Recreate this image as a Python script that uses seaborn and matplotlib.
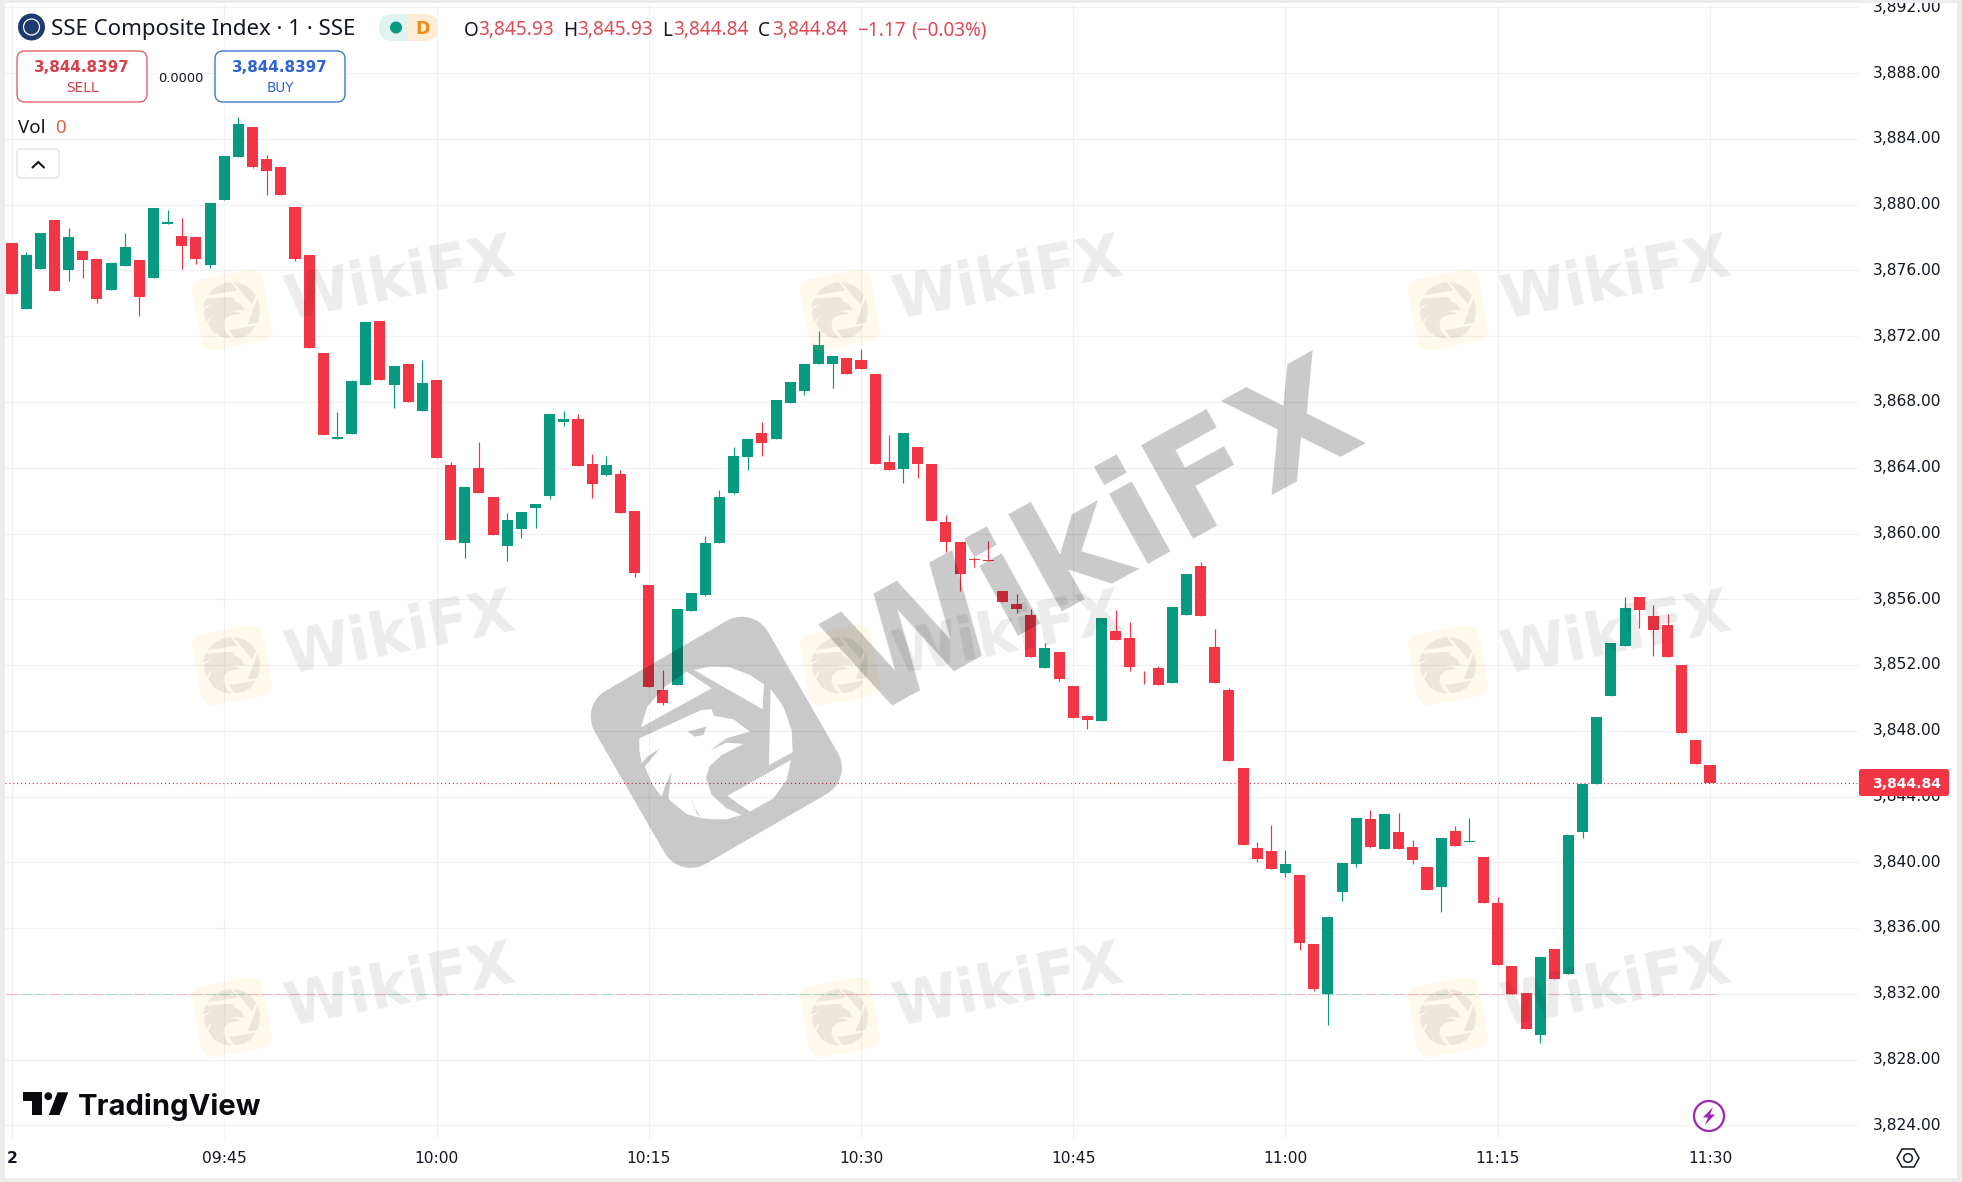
import numpy as np
import pandas as pd
import matplotlib
matplotlib.use("Agg")
import matplotlib.pyplot as plt
from matplotlib.path import Path
from matplotlib.patches import PathPatch, Rectangle, FancyBboxPatch, Circle, Polygon
from matplotlib.lines import Line2D
from matplotlib.transforms import ScaledTranslation
import seaborn as sns

OPEN = [3877.65,3873.64,3876.07,3879.10,3876.01,3877.16,3876.68,3874.79,3876.25,3876.61,
        3875.52,3878.80,3878.07,3878.01,3876.31,3880.26,3882.93,3884.75,3882.81,3882.32,
        3879.89,3876.92,3870.97,3865.75,3866.05,3869.02,3872.91,3869.02,3870.30,3867.45,
        3869.33,3864.17,3859.43,3863.99,3862.22,3859.25,3860.28,3861.56,3862.28,3866.78,
        3866.96,3864.23,3863.56,3863.62,3861.37,3856.88,3850.50,3850.81,3855.30,3856.27,
        3859.43,3862.47,3864.65,3866.11,3865.75,3867.93,3868.66,3870.30,3870.30,3870.66,
        3870.54,3869.69,3864.35,3863.92,3865.26,3864.23,3860.71,3859.49,3858.46,3858.40,
        3856.52,3855.73,3855.06,3851.84,3852.81,3850.75,3848.93,3848.62,3854.09,3853.66,
        3851.66,3851.84,3850.93,3855.06,3858.03,3853.12,3850.50,3845.76,3840.90,3840.66,
        3839.32,3839.20,3835.01,3831.98,3838.17,3839.87,3842.66,3840.78,3841.87,3840.96,
        3839.69,3838.47,3841.93,3841.21,3840.30,3837.50,3833.68,3832.04,3829.49,3834.71,
        3833.19,3841.87,3844.79,3850.13,3853.17,3856.14,3854.99,3854.44,3852.01,3847.46,
        3845.93]
HIGH = [3877.65,3877.10,3878.31,3879.10,3878.56,3877.16,3876.68,3876.43,3878.31,3876.61,
        3879.83,3879.65,3879.17,3878.07,3880.08,3882.99,3885.36,3884.75,3883.05,3882.32,
        3879.89,3876.92,3870.97,3867.39,3869.33,3872.85,3872.91,3870.18,3870.30,3870.54,
        3869.33,3864.35,3862.83,3865.56,3862.22,3861.25,3861.31,3861.80,3867.26,3867.45,
        3867.26,3864.84,3864.71,3863.86,3861.37,3856.88,3851.72,3855.42,3856.39,3859.86,
        3862.65,3865.26,3865.75,3866.78,3868.11,3869.21,3870.30,3872.30,3870.78,3870.66,
        3871.21,3869.69,3865.99,3866.11,3865.26,3864.23,3861.13,3859.49,3858.58,3859.55,
        3856.52,3856.33,3855.42,3853.36,3852.81,3850.75,3848.99,3854.88,3855.36,3854.63,
        3851.66,3851.94,3855.54,3857.55,3858.28,3854.21,3850.63,3845.76,3841.21,3842.30,
        3840.72,3839.20,3835.01,3836.65,3839.93,3842.72,3843.21,3842.91,3843.03,3841.33,
        3839.69,3841.45,3842.18,3842.72,3840.30,3837.87,3833.68,3832.04,3834.22,3834.71,
        3841.69,3844.79,3848.86,3853.35,3856.14,3856.14,3855.66,3855.11,3852.01,3847.46,
        3845.93]
LOW = [3874.57,3873.64,3876.07,3874.73,3875.34,3875.52,3874.00,3874.79,3876.25,3873.21,
       3875.52,3878.80,3876.07,3876.37,3876.13,3880.26,3882.93,3882.26,3880.62,3880.62,
       3876.55,3871.27,3865.99,3865.75,3866.05,3869.02,3869.33,3867.63,3867.99,3867.45,
       3864.59,3859.61,3858.52,3862.47,3859.92,3858.34,3859.73,3860.34,3862.10,3866.54,
       3864.11,3862.16,3863.50,3861.25,3857.37,3850.65,3849.59,3850.81,3855.30,3856.21,
       3859.43,3862.41,3863.86,3864.71,3865.75,3867.93,3868.42,3870.30,3868.84,3869.69,
       3870.00,3864.23,3863.86,3863.07,3863.38,3860.77,3858.88,3856.52,3857.97,3858.30,
       3855.85,3855.18,3852.51,3851.84,3851.05,3848.80,3848.08,3848.62,3853.54,3851.66,
       3850.87,3850.81,3850.93,3855.06,3855.00,3850.93,3846.19,3841.08,3839.99,3839.57,
       3839.08,3834.65,3832.16,3830.09,3837.62,3839.69,3840.90,3840.78,3840.78,3839.87,
       3838.29,3836.96,3841.02,3841.21,3837.50,3833.74,3831.98,3829.85,3829.00,3832.89,
       3833.19,3841.45,3844.79,3850.13,3853.17,3854.26,3852.56,3852.50,3847.89,3846.00,
       3844.84]
CLOSE = [3874.57,3876.92,3878.31,3874.73,3878.01,3876.61,3874.25,3876.43,3877.40,3874.37,
         3879.83,3878.92,3877.46,3876.68,3880.08,3882.99,3884.93,3882.32,3882.08,3880.62,
         3876.68,3871.27,3865.99,3865.87,3869.27,3872.85,3869.33,3870.18,3867.99,3869.15,
         3864.59,3859.61,3862.83,3862.47,3859.92,3860.83,3861.31,3861.80,3867.26,3866.96,
         3864.11,3863.01,3864.17,3861.25,3857.61,3850.65,3849.71,3855.42,3856.39,3859.43,
         3862.22,3864.71,3865.75,3865.50,3868.11,3869.21,3870.30,3871.45,3870.78,3869.69,
         3870.00,3864.23,3863.86,3866.11,3864.23,3860.77,3859.49,3857.55,3858.40,3858.30,
         3855.85,3855.42,3852.51,3853.05,3851.17,3848.80,3848.68,3854.88,3853.54,3851.90,
         3851.62,3850.81,3855.54,3857.55,3855.00,3850.93,3846.19,3841.08,3840.23,3839.57,
         3839.87,3835.07,3832.28,3836.65,3839.93,3842.72,3840.96,3842.91,3840.78,3840.17,
         3838.29,3841.45,3841.02,3841.27,3837.50,3833.74,3831.98,3829.85,3834.22,3832.89,
         3841.69,3844.79,3848.86,3853.35,3855.48,3855.35,3854.14,3852.50,3847.89,3846.00,
         3844.84]
PRICE_TICKS = [3824, 3828, 3832, 3836, 3840, 3844, 3848, 3852, 3856, 3860, 3864,
               3868, 3872, 3876, 3880, 3884, 3888, 3892]
TIME_TICK_POS = [0, 15, 30, 45, 60, 75, 90, 105, 120]
TIME_TICK_LABELS = ["2", "09:45", "10:00", "10:15", "10:30", "10:45", "11:00", "11:15", "11:30"]
LAST_PRICE = 3844.84
VOLUME_BASE = 3832.0

RED, GREEN = "#f23645", "#089981"
INK = "#131722"
GRID = "#f0f1f4"
W, H = 1962, 1182

sns.set_theme(style="white")
plt.rcParams["font.family"] = ["DejaVu Sans"]

df = pd.DataFrame({"i": np.arange(len(OPEN)), "o": OPEN, "h": HIGH, "l": LOW, "c": CLOSE})
df["up"] = df["c"] >= df["o"]
df["base"] = df[["o", "c"]].min(axis=1)
df["size"] = (df["c"] - df["o"]).abs()
wicks = df.melt(id_vars=["i", "up"], value_vars=["h", "l"], value_name="price")

fig = plt.figure(figsize=(W / 100, H / 100), dpi=100, facecolor="white")
ax = fig.add_axes([5 / W, 1 - 1138 / H, (1858 - 5) / W, (1138 - 5) / H])

for up, color in [(True, GREEN), (False, RED)]:
    wk = wicks[wicks["up"] == up]
    sns.lineplot(data=wk, x="i", y="price", units="i", estimator=None, color=color,
                 lw=0.85, solid_capstyle="butt", ax=ax, legend=False, zorder=2)
    part = df[df["up"] == up]
    sns.barplot(data=part, x="i", y="size", bottom=part["base"].to_numpy(), native_scale=True,
                color=color, saturation=1, width=0.78, errorbar=None, linewidth=0,
                ax=ax, legend=False, zorder=3)

ax.hlines([VOLUME_BASE] * len(df), df["i"] - 0.4, df["i"] + 0.4,
          colors=[GREEN if u else RED for u in df["up"]], lw=0.8, alpha=0.3, zorder=1.5)
ax.axhline(LAST_PRICE, color="#c8303f", lw=0.8, ls=(0, (1, 2.5)), zorder=1.8)

ax.set_xlim(-0.495, 130.46)
ax.set_ylim(3823.23, 3892.15)
ax.set_xlabel("")
ax.set_ylabel("")
ax.yaxis.tick_right()
ax.set_yticks(PRICE_TICKS)
ax.set_yticklabels([f"{v:,.2f}" for v in PRICE_TICKS])
ax.set_xticks(TIME_TICK_POS)
ax.set_xticklabels(TIME_TICK_LABELS)
ax.tick_params(axis="y", length=0, pad=10.5, labelsize=11.2, labelcolor=INK)
ax.tick_params(axis="x", length=0, pad=9.3, labelsize=11.2, labelcolor=INK)
lift = ScaledTranslation(0, 1.6 / 100, fig.dpi_scale_trans)
for tick in ax.yaxis.get_major_ticks():
    tick.label2.set_transform(tick.label2.get_transform() + lift)
ax.get_xticklabels()[0].set_fontweight("bold")
ax.grid(True, color=GRID, lw=0.9)
ax.set_axisbelow(True)
for s in ax.spines.values():
    s.set_visible(False)

# overlay in picture pixels for the TradingView furniture and the watermarks
ov = fig.add_axes([0, 0, 1, 1], zorder=5)
ov.set_xlim(0, W)
ov.set_ylim(H, 0)
ov.set_axis_off()
ov.patch.set_alpha(0)

for x0, y0, x1, y1 in [(0, 0, 5, H), (0, 0, W, 3), (1957, 0, W, H), (0, 1178, W, H)]:
    ov.add_patch(Rectangle((x0, y0), x1 - x0, y1 - y0, fc="#ececee", lw=0))


def rounded_square(side, r, n=10):
    pts = []
    c = side / 2 - r
    for (cx, cy), start in [((c, -c), -90), ((c, c), 0), ((-c, c), 90), ((-c, -c), 180)]:
        for a in np.radians(np.linspace(start, start + 90, n)):
            pts.append((cx + r * np.cos(a), cy + r * np.sin(a)))
    return np.array(pts)


def rot(p, deg):
    a = np.radians(deg)
    return np.c_[p[:, 0] * np.cos(a) - p[:, 1] * np.sin(a), p[:, 0] * np.sin(a) + p[:, 1] * np.cos(a)]


def area(p):
    x, y = p[:, 0], p[:, 1]
    return 0.5 * np.sum(x * np.roll(y, -1) - np.roll(x, -1) * y)


def orient(p, sign):
    return p if np.sign(area(p)) == sign else p[::-1]


def ring(p):
    v = np.vstack([p, p[0]])
    c = [Path.MOVETO] + [Path.LINETO] * (len(p) - 1) + [Path.CLOSEPOLY]
    return v, c


LOGO_C = np.array([439.0, 457.0])
APERTURES = [
    [(372,240),(420,230),(480,232),(540,255),(582,283),(578,358)],
    [(602,297),(640,350),(665,420),(668,487),(597,525)],
    [(663,510),(650,570),(610,625),(540,665),(472,618)],
    [(213,412),(232,350),(285,290),(350,245),(425,295)],
    [(208,445),(395,360),(425,358),(432,378),(490,388),(540,425),(470,445),(422,480),(470,458),
     (520,462),(455,495),(418,530),(408,565),(425,615),(470,655),(515,675),(470,688),(430,688),
     (395,685),(372,650),(358,605),(380,670),(395,685),(350,672),(310,640),(295,625),(305,545),
     (285,590),(275,620),(245,580),(225,530),(270,475),(232,500),(215,520),(208,480)],
]
EYE = [(352,425),(410,410),(400,435),(375,440)]
holes = [(np.array(a, float) - LOGO_C) / 3 for a in APERTURES]
eye = (np.array(EYE, float) - LOGO_C) / 3

# big centre mark: rounded square with the eagle cut out
square = rot(rounded_square(200, 30), -30) + [716.3, 742.3]
sgn = np.sign(area(square))
vv, cc = ring(square)
verts, codes = [vv], [cc]
for h in holes:
    v, c = ring(orient(h + [716.3, 742.3], -sgn))
    verts.append(v)
    codes.append(c)
v, c = ring(orient(eye + [716.3, 742.3], sgn))
verts.append(v)
codes.append(c)
ov.add_patch(PathPatch(Path(np.vstack(verts), np.concatenate(codes)), fc="black", alpha=0.21, lw=0))
ov.text(1098, 543, "WikiFX", family="DejaVu Sans", weight="bold", fontsize=106, color="black",
        alpha=0.21, rotation=29, rotation_mode="anchor", ha="center", va="center")

# small repeated marks
for dx in (0, 608, 1216):
    for dy in (0, 355, 707):
        cx, cy = 232 + dx, 310 + dy
        ov.add_patch(Polygon(rot(rounded_square(72, 11), -11) + [cx, cy], closed=True,
                             fc="#f8c93c", alpha=0.1, lw=0))
        for h in holes:
            ov.add_patch(Polygon(rot(h * 0.37, 20) + [cx, cy], closed=True, fc="black", alpha=0.07, lw=0))
        ov.text(400 + dx, 281 + dy, "WikiFX", family="DejaVu Sans", weight="bold", fontsize=43,
                color="black", alpha=0.08, rotation=11, rotation_mode="anchor",
                ha="center", va="center")

# header
ov.add_patch(Circle((31.5, 27), 13.5, fc="#1f3a6e", lw=0))
ov.add_patch(Circle((31.5, 27), 8, fc="none", ec="white", lw=0.9))
ov.text(51, 27, "SSE Composite Index · 1 · SSE", family="Noto Sans", fontsize=16,
        color=INK, va="center_baseline")
ov.add_patch(FancyBboxPatch((379, 14), 59, 27, boxstyle="round,pad=0,rounding_size=13.5",
                            fc="#e0f3f0", lw=0))
right_half = FancyBboxPatch((408, 14), 30, 27, boxstyle="round,pad=0,rounding_size=13.5",
                            fc="#fdecd6", lw=0)
ov.add_patch(right_half)
ov.add_patch(Rectangle((408, 14), 12, 27, fc="#fdecd6", lw=0))
ov.add_patch(Circle((396, 27.5), 6, fc="#089981", lw=0))
ov.text(423, 27.5, "D", family="DejaVu Sans", fontsize=12.5, color="#ef8a12", ha="center",
        va="center_baseline", weight="bold")

OHLC_RED = "#dc4a55"
for x, s, col in [(463.5, "O", INK), (478, "3,845.93", OHLC_RED), (563, "H", INK), (577.5, "3,845.93", OHLC_RED),
                  (662, "L", INK), (673, "3,844.84", OHLC_RED), (758, "C", INK), (772, "3,844.84", OHLC_RED),
                  (857, "−1.17", OHLC_RED), (911, "(−0.03%)", OHLC_RED)]:
    ov.text(x, 28, s, family="Noto Sans", fontsize=13.7, color=col, va="center_baseline")

for x0, col, txtcol, price, label in [(17, "#e4606d", "#d8404c", "3,844.8397", "SELL"),
                                      (215, "#3d78c9", "#2f62d4", "3,844.8397", "BUY")]:
    ov.add_patch(FancyBboxPatch((x0, 51), 130, 51, boxstyle="round,pad=0,rounding_size=8",
                                fc="white", ec=col, lw=1.0))
    ov.text(x0 + 65, 66, price, family="DejaVu Sans", fontsize=10.9, color=txtcol, ha="center",
            va="center_baseline", weight="bold")
    ov.text(x0 + 65, 86, label, family="DejaVu Sans", fontsize=9.8, color=txtcol, ha="center",
            va="center_baseline")
ov.text(181, 77, "0.0000", family="DejaVu Sans", fontsize=9.4, color=INK, ha="center", va="center_baseline")
ov.text(18, 126, "Vol", family="Noto Sans", fontsize=13.5, color=INK, va="center_baseline")
ov.text(55.5, 126, "0", family="Noto Sans", fontsize=13.5, color="#d9604f", va="center_baseline")
ov.add_patch(FancyBboxPatch((17, 149), 42, 29, boxstyle="round,pad=0,rounding_size=4",
                            fc="white", ec="#e0e3eb", lw=1.0))
ov.add_line(Line2D([32.5, 38.3, 44], [167.5, 162, 167.5], color=INK, lw=1.5))

# TradingView logo
ov.add_patch(Polygon([(22.7,1092.3),(41.7,1092.3),(41.7,1115),(31.7,1115),(31.7,1100.5),(22.7,1100.5)], fc="#0b0b0f", lw=0))
ov.add_patch(Circle((48.3, 1096.2), 3.9, fc="#0b0b0f", lw=0))
ov.add_patch(Polygon([(57.5,1092.3),(68.3,1092.3),(59.5,1115),(48.8,1115)], fc="#0b0b0f", lw=0))
ov.text(78, 1115, "TradingView", family="Inter", weight="bold", fontsize=21, color="#0b0b0f", va="baseline")

# last price flag
ov.add_patch(FancyBboxPatch((1859, 769), 90, 27, boxstyle="round,pad=0,rounding_size=2.5", fc=RED, lw=0))
ov.text(1907, 782.5, f"{LAST_PRICE:,.2f}", fontsize=10.1, color="white", ha="center",
        va="center_baseline", weight="bold")

# lightning badge and settings icon
ov.add_patch(Circle((1709, 1116), 15, fc="white", ec="#9c27b0", lw=1.6))
ov.add_patch(Polygon([(1713,1107),(1703,1117.5),(1708,1117.5),(1705,1125),(1715,1114.5),(1710,1114.5)], fc="#9c27b0", lw=0))
ov.add_patch(Polygon([(1897,1158),(1902,1149),(1914,1149),(1919,1158),(1914,1167),(1902,1167)],
                     closed=True, fc="none", ec=INK, lw=1.1))
ov.add_patch(Circle((1908, 1158), 4.3, fc="none", ec=INK, lw=1.1))

fig.savefig("out.png", dpi=100)
